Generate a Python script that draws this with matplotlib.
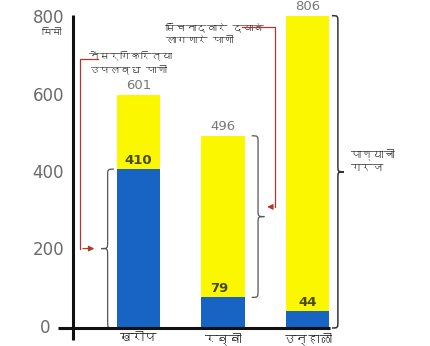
import matplotlib
matplotlib.use("Agg")
import matplotlib.pyplot as plt
import matplotlib.font_manager as fm
from matplotlib.ft2font import FT2Font
from matplotlib.path import Path
from matplotlib.patches import PathPatch, FancyArrowPatch

# ---------------- data ----------------
categories = ["खरीप", "रब्बी", "उन्हाळी"]
total_need = [601, 496, 806]          # पाण्याची गरज (mm)
natural_water = [410, 79, 44]         # नैसर्गिकरित्या उपलब्ध पाणी (mm)
y_ticks = [0, 200, 400, 600, 800]
unit_label = "मिमी"
natural_label = "नैसर्गिकरित्या\nउपलब्ध पाणी"
irrigation_label = "सिंचनाद्वारे द्यावे\nलागणारे पाणी"
need_label = "पाण्याची\nगरज"

# ---------------- font with Devanagari ----------------
deva = None
for f in fm.fontManager.ttflist:
    try:
        ft = FT2Font(f.fname)
        if ft.get_char_index(0x0915) and ft.get_char_index(0x093F):
            deva = f.name
            break
    except Exception:
        pass
fams = ([deva] if deva else []) + ["DejaVu Sans"]
plt.rcParams["font.family"] = fams

BLUE = "#1764c4"
YELLOW = "#fbf700"
RED = "#b5372b"
GRAY = "#6a6a6a"

fig = plt.figure(figsize=(4.31, 3.46), dpi=100)
ax = fig.add_axes([0, 0, 1, 1])
ax.set_xlim(-1.639, 3.462)
ax.set_ylim(-46.5, 846.5)
ax.axis("off")

x = list(range(len(categories)))
width = 0.52
irrigation = [t - n for t, n in zip(total_need, natural_water)]
ax.bar(x, natural_water, width=width, color=BLUE, zorder=2)
ax.bar(x, irrigation, width=width, bottom=natural_water, color=YELLOW, zorder=2)

# axes lines
yaxis_x = -0.775
ax.plot([yaxis_x, yaxis_x], [-32, 808], color="#111111", lw=2.2, zorder=3, solid_capstyle="butt")
ax.plot([-0.953, x[-1] + width / 2 + 0.005], [0, 0], color="#111111", lw=2.2, zorder=3, solid_capstyle="butt")

for t in y_ticks:
    off = 0.27 if t == 0 else 0.105
    ax.text(yaxis_x - off, t, str(t), ha="right", va="center", fontsize=12,
            color=GRAY, family=["DejaVu Sans"])
ax.text(yaxis_x - 0.25, y_ticks[-1] - 38, unit_label, ha="center", va="center",
        fontsize=7, color="#333333", fontweight="bold")

# category labels
for xi, c in zip(x, categories):
    ax.text(xi, -27, c, ha="center", va="center", fontsize=9, color="#222222",
            fontweight="bold")

# value labels
for xi, t in zip(x, total_need):
    ax.text(xi, t + 8, str(t), ha="center", va="bottom", fontsize=9.5, color="#777777",
            family=["DejaVu Sans"])
for i, (xi, n) in enumerate(zip(x, natural_water)):
    dx = -0.05 if i == 1 else 0
    ax.text(xi + dx, n + 6, str(n), ha="center", va="bottom", fontsize=9.5,
            color="#4a4a1a", fontweight="bold", family=["DejaVu Sans"])


def brace(x0, y0, y1, w, r=18, **kw):
    mid = (y0 + y1) / 2
    xm = x0 + w / 2
    verts = [(x0, y1), (xm, y1), (xm, y1), (xm, y1 - r),
             (xm, mid + r),
             (xm, mid), (xm, mid), (x0 + w, mid),
             (xm, mid), (xm, mid), (xm, mid - r),
             (xm, y0 + r),
             (xm, y0), (xm, y0), (x0, y0)]
    codes = [Path.MOVETO, Path.CURVE4, Path.CURVE4, Path.CURVE4,
             Path.LINETO,
             Path.CURVE4, Path.CURVE4, Path.CURVE4,
             Path.CURVE4, Path.CURVE4, Path.CURVE4,
             Path.LINETO,
             Path.CURVE4, Path.CURVE4, Path.CURVE4]
    ax.add_patch(PathPatch(Path(verts, codes), fill=False, **kw))


# brace 1: natural water of kharif (left side)
brace(x[0] - width / 2 - 0.03, 0, natural_water[0], -0.15, color="#555555", lw=0.9)
# brace 2: irrigation for rabi (right side)
brace(x[1] + width / 2 + 0.08, natural_water[1], total_need[1], 0.15, color="#555555", lw=0.9)
# brace 3: total need summer (right side)
brace(x[2] + width / 2 + 0.03, 0, total_need[2], 0.14, color="#333333", lw=1.1)

# text annotations
ax.text(-0.59, 686, natural_label, ha="left", va="center", fontsize=7.5,
        color="#333333", fontweight="bold", linespacing=1.45)
ax.text(0.32, 760, irrigation_label, ha="left", va="center", fontsize=7.5,
        color="#333333", fontweight="bold", linespacing=1.45)
ax.text(2.5, 432, need_label, ha="left", va="center", fontsize=8,
        color="#333333", fontweight="bold", linespacing=1.45)

# red connector 1
mid1 = natural_water[0] / 2
ax.plot([-0.48, -0.69, -0.69], [686 + 8, 686 + 8, mid1], color=RED, lw=0.9, zorder=4)
ax.add_patch(FancyArrowPatch((-0.69, mid1), (-0.49, mid1), arrowstyle="-|>",
                             mutation_scale=8, color=RED, lw=0.9, zorder=4))
# red connector 2
mid2 = (natural_water[1] + total_need[1]) / 2 + 25
ax.plot([1.22, 1.62, 1.62], [776, 776, mid2], color=RED, lw=0.9, zorder=4)
ax.add_patch(FancyArrowPatch((1.62, mid2), (1.49, mid2), arrowstyle="-|>",
                             mutation_scale=8, color=RED, lw=0.9, zorder=4))

fig.savefig("out.png", dpi=100)
